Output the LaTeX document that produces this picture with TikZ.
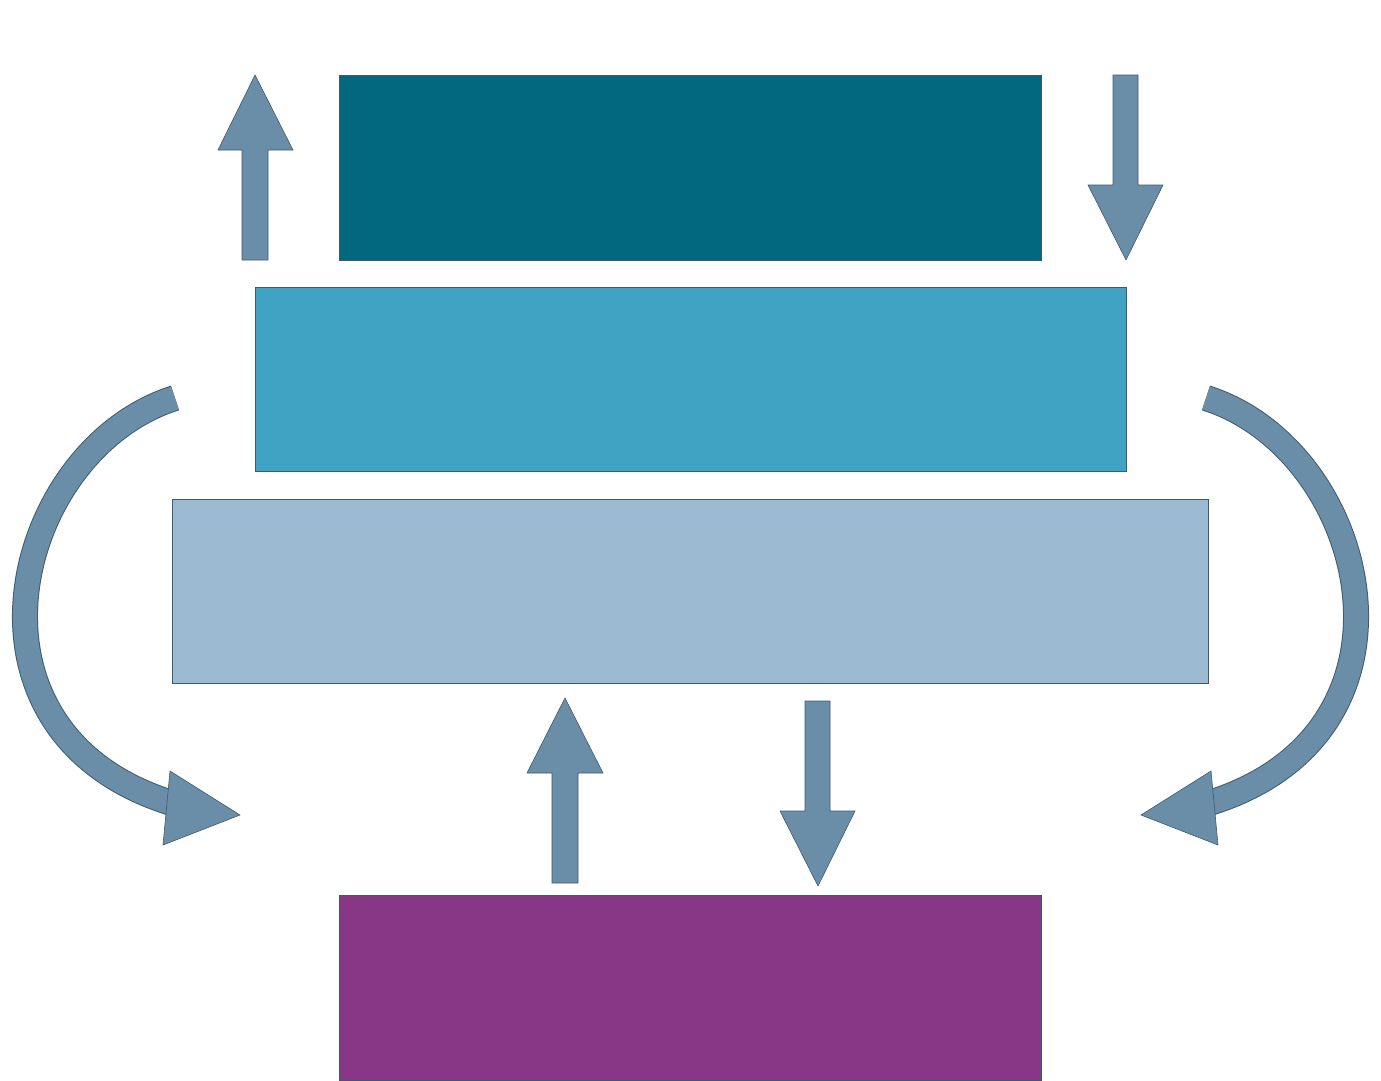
\documentclass[tikz,border=0pt]{standalone}
\begin{document}
\begin{tikzpicture}[x=1pt,y=-1pt]
\definecolor{cA}{HTML}{02687F}\definecolor{cB}{HTML}{41A3C3}\definecolor{cC}{HTML}{9CBBD2}\definecolor{cD}{HTML}{873685}
\definecolor{ar}{HTML}{6A8EA8}\definecolor{ol}{HTML}{3E5A6E}
\tikzset{box/.style={draw=ol,line width=0.5pt},arr/.style={fill=ar,draw=ol,line width=0.6pt}}
\useasboundingbox (0,0) rectangle (1381,1080);
\node[box,fill=cA,minimum width=702pt,minimum height=185pt,inner sep=0,anchor=north west] (a) at (339,75) {};
\node[box,fill=cB,minimum width=871pt,minimum height=184pt,inner sep=0,anchor=north west] (b) at (255,287) {};
\node[box,fill=cC,minimum width=1036pt,minimum height=184pt,inner sep=0,anchor=north west] (c) at (172,499) {};
\node[box,fill=cD,minimum width=702pt,minimum height=185pt,inner sep=0,anchor=north west] (d) at (339,895) {};
% straight arrows
\draw[arr] (242,260)--(242,150)--(218,150)--(255,75)--(293,150)--(268,150)--(268,260)--cycle;
\draw[arr] (1113,75)--(1113,185)--(1088,185)--(1126,260)--(1163,185)--(1138,185)--(1138,75)--cycle;
\draw[arr] (552,883)--(552,773)--(527,773)--(565,698)--(603,773)--(578,773)--(578,883)--cycle;
\draw[arr] (805,701)--(805,811)--(780,811)--(818,886)--(855,811)--(830,811)--(830,701)--cycle;
% curved arrows
\draw[ol,line width=26pt] (175,398) .. controls (10,450) and (-60,740) .. (182,806);
\draw[ar,line width=24pt] (175,398) .. controls (10,450) and (-60,740) .. (182,806);
\draw[arr] (163,845)--(240,815)--(170,771)--cycle;
\draw[ol,line width=26pt] (1206,398) .. controls (1371,450) and (1441,740) .. (1199,806);
\draw[ar,line width=24pt] (1206,398) .. controls (1371,450) and (1441,740) .. (1199,806);
\draw[arr] (1218,845)--(1141,815)--(1211,771)--cycle;
\end{tikzpicture}
\end{document}
